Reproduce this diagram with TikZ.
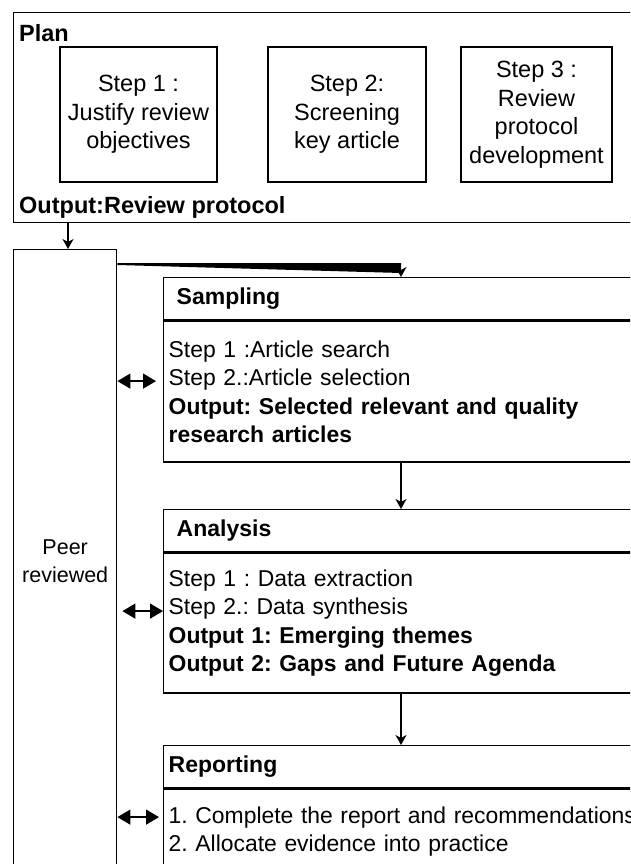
\documentclass[tikz,border=0pt]{standalone}
\usepackage{fontspec}
\setmainfont{Liberation Sans}
\usetikzlibrary{arrows.meta}
\frenchspacing

\begin{document}
\begin{tikzpicture}[x=1pt, y=-1pt,
    every node/.style={font=\fontsize{22.9}{28.5}\selectfont},
    box/.style={draw, line width=1.4pt, inner sep=0pt},
    stepbox/.style={box, minimum height=135pt, align=center,
                    font=\fontsize{23.5}{28.5}\selectfont},
    head/.style={box, anchor=north west, minimum width=500pt, minimum height=42pt,
                 text width=474pt, inner xsep=13pt, align=left,
                 font=\fontsize{23}{28.5}\selectfont\bfseries},
    body/.style={box, anchor=north west, minimum width=500pt,
                 text width=490pt, inner xsep=5pt, align=left},
    title/.style={anchor=west, inner sep=0pt, font=\fontsize{23.5}{28.5}\selectfont\bfseries},
    arr/.style={-{Stealth[length=10pt,width=11pt,inset=3pt]}, line width=1.3pt},
    both/.style={{Triangle[length=13pt,width=15pt]}-{Triangle[length=13pt,width=15pt]},
                 line width=1.4pt}
]
\clip (0,0) rectangle (630,864);

% plan block
\node[box, anchor=north west, minimum width=640pt, minimum height=210pt] (plan) at (13,12) {};
\node[title] (plantitle) at (19,33) {Plan};
\node[stepbox, minimum width=157pt] (step1) at (138.5,114.5) {Step 1 :\\Justify review\\objectives};
\node[stepbox, minimum width=158pt] (step2) at (347,114.5) {Step 2:\\Screening\\key article};
\node[stepbox, minimum width=151pt] (step3) at (536.5,114.5) {Step 3 :\\Review\\protocol\\development};
\node[title] (planout) at (19,207) {Output:Review protocol};

% peer review column
\node[box, anchor=north west, minimum width=103pt, minimum height=624pt, align=center,
      font=\fontsize{21.5}{28}\selectfont] (peer) at (13,249) {Peer\\reviewed};

% phases
\node[head] (samphead) at (163,277) {Sampling};
\node[body, minimum height=141pt] (sampbody) at (samphead.south west)
    {Step 1 :Article search\\Step 2.:Article selection\\
     \textbf{Output: Selected relevant and quality}\\\textbf{research articles}};
\node[head] (anahead) at (163,509) {Analysis};
\node[body, minimum height=140pt] (anabody) at (anahead.south west)
    {Step 1 : Data extraction\\Step 2.: Data synthesis\\
     \textbf{Output 1: Emerging themes}\\\textbf{Output 2: Gaps and Future Agenda}};
\node[head, inner xsep=5pt, text width=490pt] (rephead) at (163,745) {Reporting};
\node[body, minimum height=85pt] (repbody) at (rephead.south west)
    {1. Complete the report and recommendations\\2. Allocate evidence into practice};

\coordinate (axis) at (401,0);
\coordinate (sampin) at (samphead.north -| axis);
\coordinate (sampmid) at ([yshift=10.5pt]sampbody.west);
\coordinate (anamid) at ([yshift=12pt]anabody.west);
\coordinate (repmid) at ([yshift=14.5pt]repbody.west);

% connectors
\draw[arr] (plan.south -| 68,0) -- (peer.north -| 68,0);
\fill ([yshift=-14pt]peer.north east) -- ([yshift=14pt]sampin) -- ([yshift=4pt]sampin) -- ([yshift=-16pt]peer.north east) -- cycle;
\draw[arr] ([yshift=7pt]sampin) -- (sampin);
\draw[arr] (sampbody.south -| axis) -- (anahead.north -| axis);
\draw[arr] (anabody.south -| axis) -- (rephead.north -| axis);
\draw[both, shorten >=7pt] (peer.east |- sampmid) -- (sampmid);
\draw[both, shorten <=5pt] (peer.east |- anamid) -- (anamid);
\draw[both, shorten >=4pt] (peer.east |- repmid) -- (repmid);
\end{tikzpicture}
\end{document}
